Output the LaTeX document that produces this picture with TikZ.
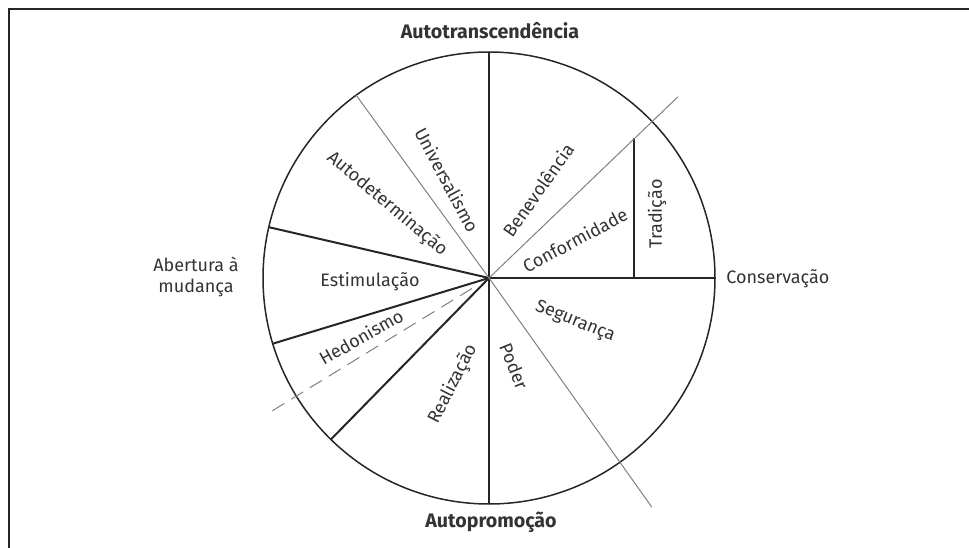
\documentclass[tikz,border=0pt]{standalone}
\usepackage{fontspec}
\setmainfont{Fira Sans}
\usetikzlibrary{positioning,calc}

\begin{document}
\begin{tikzpicture}[
        x=0.5pt, y=0.5pt,
        rim/.style={draw=black!85, line width=0.75pt},
        divider/.style={draw=black!85, line width=1pt},
        axisline/.style={draw=black!50, line width=0.5pt},
        value/.style={text=black!80, font=\fontsize{9}{10.5}\selectfont, inner sep=1pt},
        pole/.style={value, font=\fontsize{9.8}{11}\selectfont\bfseries}
    ]
        \useasboundingbox (0,0) rectangle (969,547);
        \draw[black!85, line width=1pt] (9,-5) |- (975,538);
        \coordinate (O) at (489,269);
        \draw[rim] (O) circle (226);
        \draw[divider] (O) -- ++(90:226);
        \draw[divider] (O) -- ++(-90:226);
        \draw[divider] (O) -- ++(0:226);
        \draw[divider] (O) -- ++(167:226);
        \draw[divider] (O) -- ++(196.9:226);
        \draw[divider] (O) -- ++(225.6:226);
        \draw[divider] (634,269) -- (634,409);
        \draw[axisline] (O) -- ++(126:226);
        \draw[axisline] (O) -- ++(43.8:262);
        \draw[axisline] (O) -- ++(-54.6:281);
        \draw[axisline, dash pattern=on 7pt off 4pt] ($(O)+(211.5:20)$) -- ++(211.5:239);

        \node[pole] (top) at (490,516) {Autotranscendência};
        \node[pole] (bottom) at (491,25) {Autopromoção};
        \node[value, anchor=west] (right) at (724,268) {Conservação};
        \node[value, align=center] (left) at (196,270) {Abertura à\\mudança};

        \node[value, rotate=-62] (univ) at (447,367) {Universalismo};
        \node[value, rotate=-40] (autodet) at (387,343) {Autodeterminação};
        \node[value, rotate=55] (benev) at (538,357) {Benevolência};
        \node[value, rotate=28] (conf) at (575,307) {Conformidade};
        \node[value, rotate=90] (trad) at (657,333) {Tradição};
        \node[value] (estim) at (370,265) {Estimulação};
        \node[value, rotate=29.5] (hedon) at (361,210) {Hedonismo};
        \node[value, rotate=63] (real) at (453,163) {Realização};
        \node[value, rotate=-68] (poder) at (514,181) {Poder};
        \node[value, rotate=-22] (seg) at (575,225) {Segurança};
    \end{tikzpicture}
\end{document}
